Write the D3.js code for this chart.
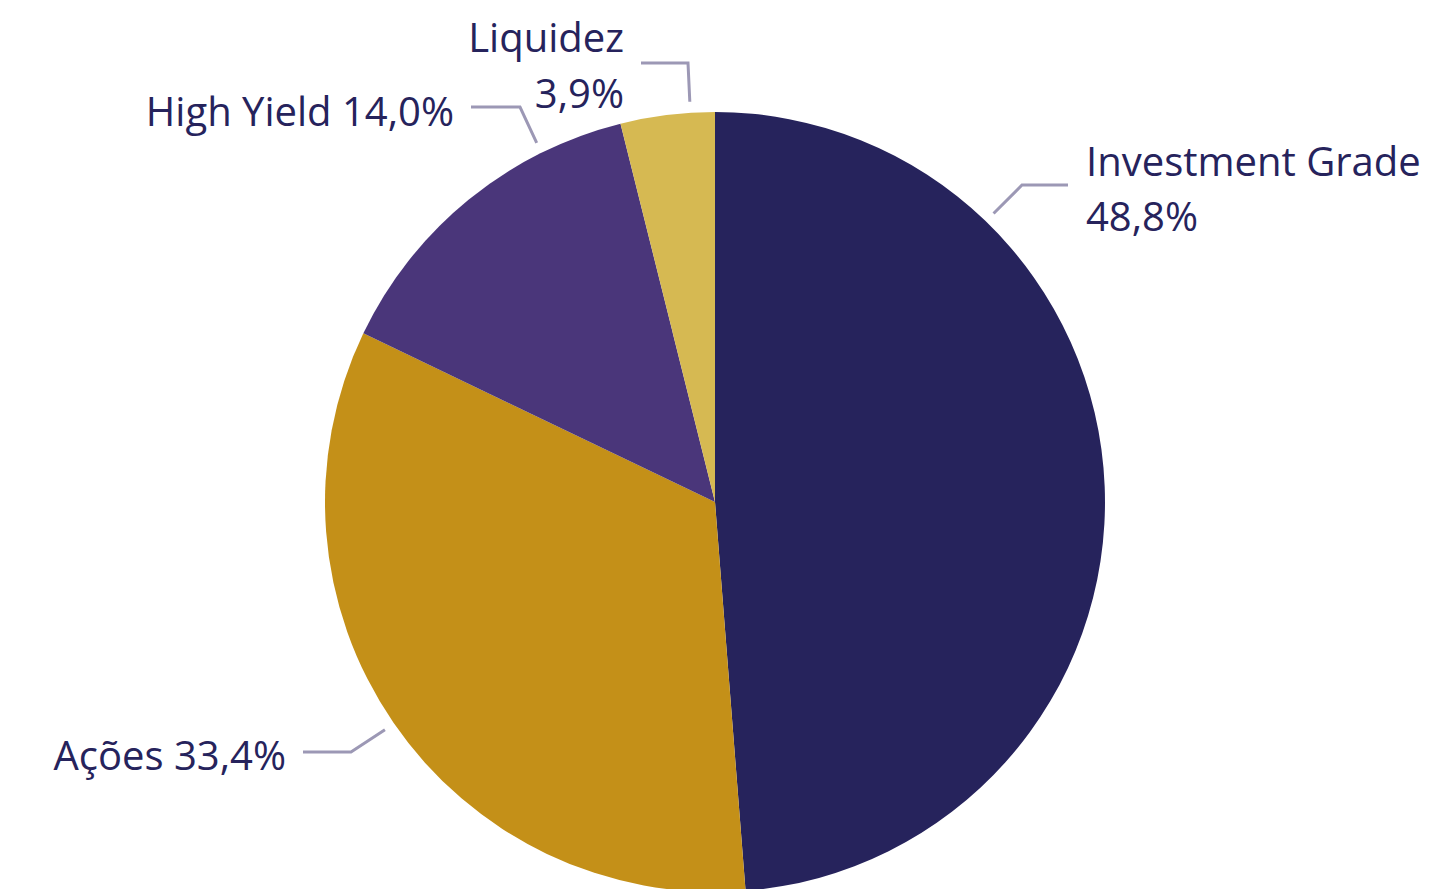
<!DOCTYPE html>
<html>
<head>
<meta charset="utf-8">
<script src="https://cdn.jsdelivr.net/npm/d3@7"></script>
<style>
  body { margin: 0; background: #fff; }
  svg text { font-family: "Open Sans", "Noto Sans", sans-serif; fill: #26235C; }
</style>
</head>
<body>
<div id="chart"></div>
<script>
// data
const categories = ["Investment Grade", "Ações", "High Yield", "Liquidez"];
const shares = [48.8, 33.4, 14.0, 3.9];
const labelText = ["48,8%", "33,4%", "14,0%", "3,9%"];
const colors = ["#26235C", "#C49018", "#4A367A", "#D6B952"];

const WIDTH = 1430;
const HEIGHT = 889;
const cx = 715, cy = 502, R = 390;

// leader-line layout (angle in degrees clockwise from top, elbow/end points, text position)
const labelLayout = [
  { ang: 44,    elbow: [1022, 185], end: [1068, 185], anchor: "start", tx: 1086, lines: [162, 217], split: true },
  { ang: 235.4, elbow: [351, 752],  end: [303, 752],  anchor: "end",   tx: 286,  lines: [756], split: false },
  { ang: 333.6, elbow: [520, 107],  end: [471, 107],  anchor: "end",   tx: 454,  lines: [112], split: false },
  { ang: 356.4, elbow: [688, 63],   end: [641, 63],   anchor: "end",   tx: 624,  lines: [38, 94], split: true }
];

const svg = d3.select("#chart").append("svg")
  .attr("width", WIDTH)
  .attr("height", HEIGHT);

const pie = d3.pie().sort(null).value(d => d)(shares);
const arc = d3.arc().innerRadius(0).outerRadius(R);

const g = svg.append("g").attr("transform", `translate(${cx},${cy})`);
g.selectAll("path")
  .data(pie)
  .enter().append("path")
  .attr("d", arc)
  .attr("fill", (d, i) => colors[i]);

// leader lines + labels
labelLayout.forEach((l, i) => {
  const a = l.ang * Math.PI / 180;
  const r0 = R + 11;
  const sx = cx + r0 * Math.sin(a), sy = cy - r0 * Math.cos(a);
  svg.append("polyline")
    .attr("points", [[sx, sy], l.elbow, l.end].map(p => p.join(",")).join(" "))
    .attr("fill", "none")
    .attr("stroke", "#9C98B5")
    .attr("stroke-width", 3);

  const t = svg.append("text")
    .attr("x", l.tx)
    .attr("text-anchor", l.anchor)
    .style("font-size", "40px");
  if (l.split) {
    t.append("tspan").attr("x", l.tx).attr("y", l.lines[0]).attr("dy", "0.35em").text(categories[i]);
    t.append("tspan").attr("x", l.tx).attr("y", l.lines[1]).attr("dy", "0.35em").text(labelText[i]);
  } else {
    t.attr("y", l.lines[0]).attr("dy", "0.35em").text(categories[i] + " " + labelText[i]);
  }
});
</script>
</body>
</html>
